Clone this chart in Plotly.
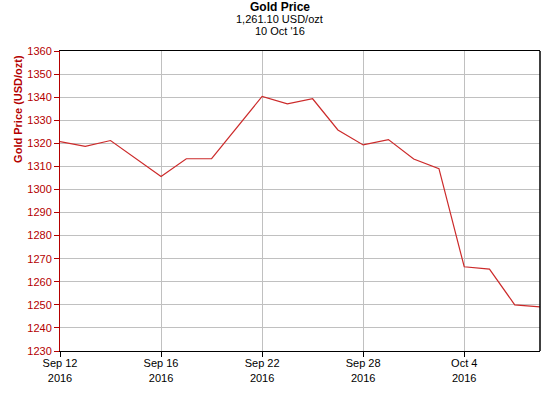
import plotly.graph_objects as go

dates = ["2016-09-12", "2016-09-13", "2016-09-14", "2016-09-15", "2016-09-16",
         "2016-09-19", "2016-09-20", "2016-09-21", "2016-09-22", "2016-09-23",
         "2016-09-26", "2016-09-27", "2016-09-28", "2016-09-29", "2016-09-30",
         "2016-10-03", "2016-10-04", "2016-10-05", "2016-10-06", "2016-10-07"]
prices = [1320.7, 1318.7, 1321.2, None, 1305.6,
          1313.3, 1313.4, None, 1340.3, 1337.1,
          1339.3, 1325.8, 1319.3, 1321.6, 1313.2,
          1309.0, 1266.5, 1265.5, 1250.0, 1249.1]
tick_dates = ["2016-09-12", "2016-09-16", "2016-09-22", "2016-09-28", "2016-10-04"]
tick_text = ["Sep 12<br>2016", "Sep 16<br>2016", "Sep 22<br>2016", "Sep 28<br>2016", "Oct 4<br>2016"]

RED = "#b40000"
FONT = "Liberation Sans, Arial, sans-serif"

fig = go.Figure()
fig.add_trace(go.Scatter(x=dates, y=prices, mode="lines", connectgaps=True,
                         line=dict(color="#cc2a2a", width=1.2), hoverinfo="x+y"))

fig.update_layout(
    width=560, height=400,
    margin=dict(l=60, r=20, t=51, b=49),
    paper_bgcolor="white", plot_bgcolor="white",
    showlegend=False,
    font=dict(family=FONT, size=11, color="black"),
    xaxis=dict(type="category", range=[0, len(dates) - 1],
               tickmode="array", tickvals=tick_dates, ticktext=tick_text,
               showgrid=True, gridcolor="#c0c0c0", gridwidth=1,
               showline=True, linecolor="black", linewidth=1, mirror=True,
               ticks="outside", ticklen=5, tickcolor="black",
               ticklabelstandoff=-3,
               tickfont=dict(family=FONT, size=11, color="black"),
               zeroline=False, fixedrange=True),
    yaxis=dict(range=[1230, 1360], dtick=10, tick0=1230,
               showgrid=True, gridcolor="#c0c0c0", gridwidth=1,
               showline=True, linecolor=RED, linewidth=1,
               ticks="outside", ticklen=5, tickcolor=RED,
               tickfont=dict(family=FONT, size=11, color=RED),
               zeroline=False, fixedrange=True),
    shapes=[dict(type="line", xref="paper", yref="paper", x0=1, x1=1, y0=0, y1=1,
                 line=dict(color="black", width=1.5))],
    annotations=[
        dict(text="<b>Gold Price</b>", xref="paper", yref="paper", x=0.458, y=1.147,
             xanchor="center", yanchor="middle", showarrow=False,
             font=dict(family=FONT, size=12, color="black")),
        dict(text="1,261.10 USD/ozt", xref="paper", yref="paper", x=0.458, y=1.107,
             xanchor="center", yanchor="middle", showarrow=False,
             font=dict(family=FONT, size=11, color="black")),
        dict(text="10 Oct '16", xref="paper", yref="paper", x=0.458, y=1.067,
             xanchor="center", yanchor="middle", showarrow=False,
             font=dict(family=FONT, size=11, color="black")),
        dict(text="<b>Gold Price (USD/ozt)</b>", xref="paper", yref="paper",
             x=-0.0875, y=0.807, xanchor="center", yanchor="middle", textangle=-90,
             showarrow=False, font=dict(family=FONT, size=11, color=RED)),
    ],
)

fig.write_html("out.html", config={"displayModeBar": False},
               post_script="document.body.style.margin='0px';document.body.style.padding='0px';")
